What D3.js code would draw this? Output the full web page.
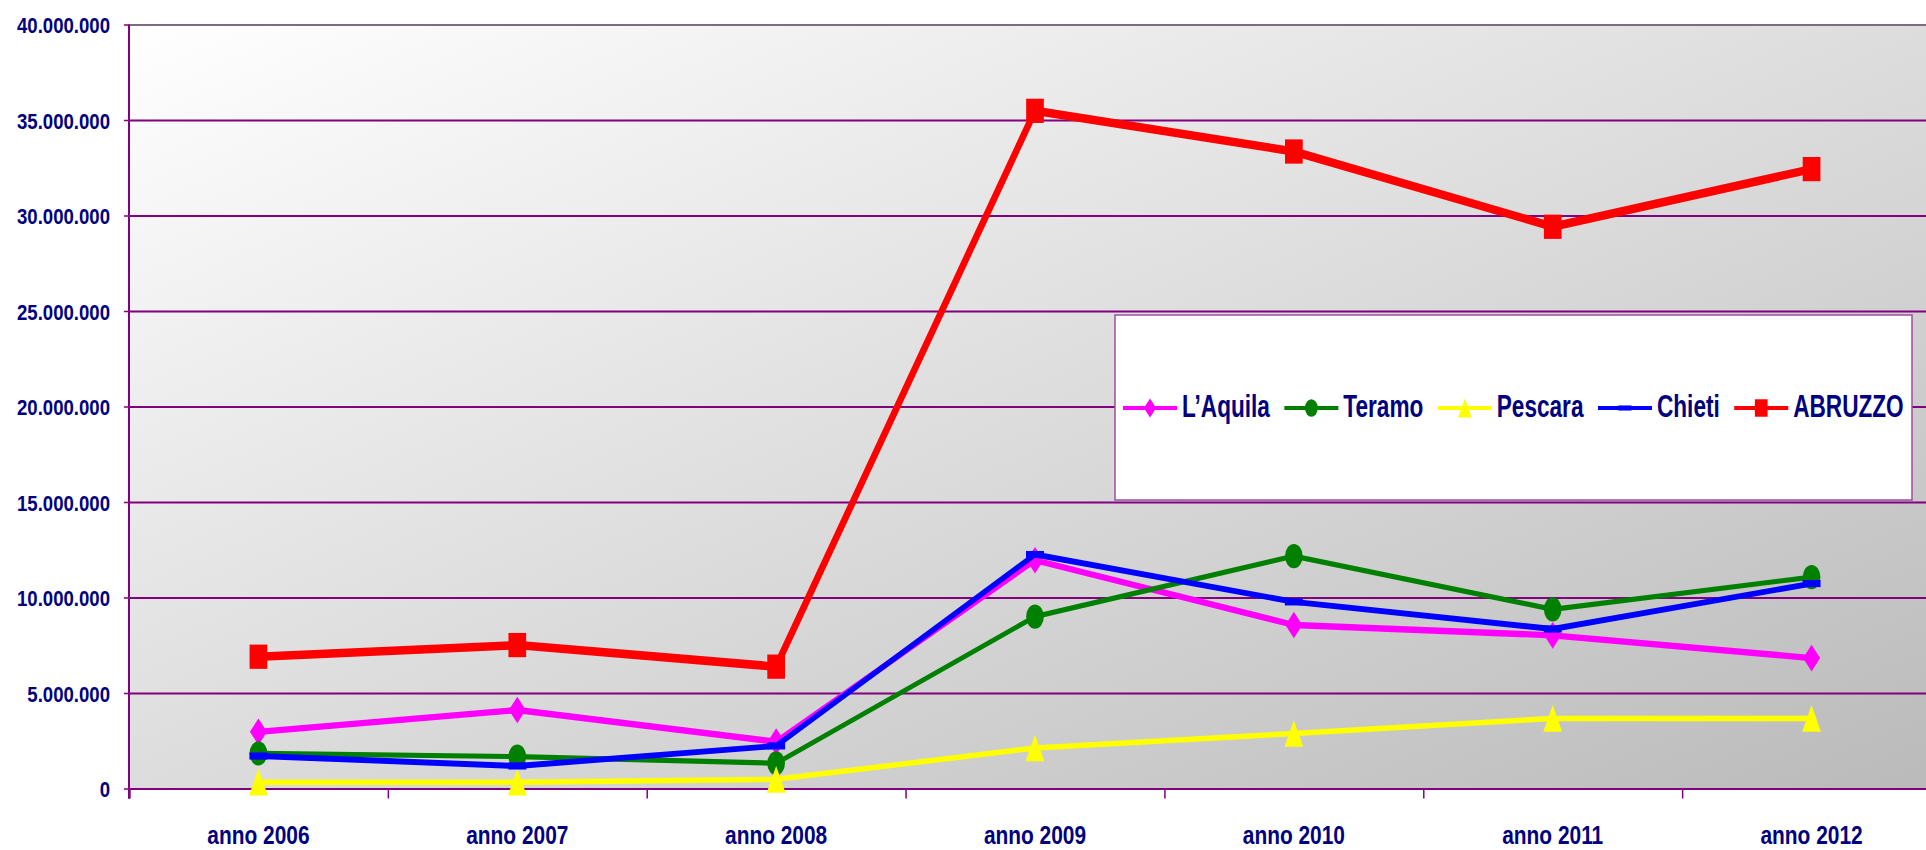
<!DOCTYPE html>
<html>
<head>
<meta charset="utf-8">
<script src="https://cdn.jsdelivr.net/npm/d3@7"></script>
<style>
  html, body { margin: 0; padding: 0; background: #ffffff; }
  svg { display: block; }
  text { font-family: "Liberation Sans", Arial, sans-serif; font-weight: bold; fill: #000080; }
</style>
</head>
<body>
<svg id="chart" width="1926" height="850"></svg>
<script>
// Categories (years) and values per province
const categories = ["anno 2006", "anno 2007", "anno 2008", "anno 2009", "anno 2010", "anno 2011", "anno 2012"];
const laquila = [2970000, 4110000, 2450000, 11950000, 8560000, 8020000, 6830000];
const teramo  = [1840000, 1670000, 1320000, 9000000, 12170000, 9380000, 11070000];
const pescara = [330000, 330000, 480000, 2120000, 2880000, 3670000, 3670000];
const chieti  = [1700000, 1180000, 2230000, 12250000, 9770000, 8350000, 10730000];
const abruzzo = [6900000, 7510000, 6380000, 35480000, 33350000, 29410000, 32430000];
const seriesNames = ["L\u2019Aquila", "Teramo", "Pescara", "Chieti", "ABRUZZO"];
const yTicks = [0, 5000000, 10000000, 15000000, 20000000, 25000000, 30000000, 35000000, 40000000];

const series = [
  { name: seriesNames[0], values: laquila, color: "#ff00ff", marker: "diamond", width: 4.6 },
  { name: seriesNames[1], values: teramo,  color: "#008000", marker: "circle",  width: 3.8 },
  { name: seriesNames[2], values: pescara, color: "#ffff00", marker: "triangle", width: 4.0 },
  { name: seriesNames[3], values: chieti,  color: "#0000ff", marker: "dash",    width: 4.3 },
  { name: seriesNames[4], values: abruzzo, color: "#ff0000", marker: "square",  width: 6.2 }
];

// Layout (final pixel coordinates)
const plot = { left: 129, right: 1941, top: 24.5, bottom: 788.5 };
const K = 1.37;                 // vertical stretch of the drawing
const purple = "#800080";

const svg = d3.select("#chart");
const defs = svg.append("defs");
const grad = defs.append("linearGradient").attr("id", "bg")
  .attr("x1", 0).attr("y1", 0).attr("x2", 1).attr("y2", 1);
grad.append("stop").attr("offset", 0).attr("stop-color", "#ffffff");
grad.append("stop").attr("offset", 1).attr("stop-color", "#bababa");

const y = d3.scaleLinear().domain([0, 40000000]).range([plot.bottom, plot.top]);
const xBand = d3.scaleBand().domain(categories).range([plot.left, plot.right]);
const xEdge = d3.scaleLinear().domain([0, categories.length]).range([plot.left, plot.right]);
const xc = c => xBand(c) + xBand.bandwidth() / 2;

const it = d3.formatLocale({ decimal: ",", thousands: ".", grouping: [3], currency: ["\u20ac", ""] });
const fmt = it.format(",d");

// Plot background
svg.append("rect")
  .attr("x", plot.left).attr("y", plot.top)
  .attr("width", plot.right - plot.left).attr("height", plot.bottom - plot.top)
  .attr("fill", "url(#bg)");

// Horizontal gridlines
const grid = svg.append("g").attr("transform", `translate(${plot.left},0)`)
  .call(d3.axisLeft(y).tickValues(yTicks).tickSize(-(plot.right - plot.left)).tickFormat(""));
grid.select(".domain").remove();
grid.selectAll("line").attr("stroke", purple).attr("stroke-width", 2.2);
grid.selectAll(".tick").filter(d => d === 40000000).select("line").attr("stroke", "#7d6a86");

// Y axis with labels
const yAxis = svg.append("g").attr("transform", `translate(${plot.left},0)`)
  .call(d3.axisLeft(y).tickValues(yTicks).tickSize(5).tickPadding(0).tickFormat(fmt));
yAxis.select(".domain").remove();
yAxis.selectAll("line").attr("stroke", purple).attr("stroke-width", 1.5);
yAxis.selectAll("text")
  .attr("x", null).attr("dy", null)
  .attr("text-anchor", "end")
  .attr("font-size", 18.6)
  .attr("transform", "translate(-19,8) scale(1,1.22)");
svg.append("line")
  .attr("x1", plot.left).attr("x2", plot.left)
  .attr("y1", plot.top).attr("y2", plot.bottom + 10)
  .attr("stroke", purple).attr("stroke-width", 2);

// X axis: boundary ticks and category labels
const xTicks = svg.append("g").attr("transform", `translate(0,${plot.bottom})`)
  .call(d3.axisBottom(xEdge).ticks(categories.length).tickSize(10).tickFormat(""));
xTicks.select(".domain").attr("stroke", purple).attr("stroke-width", 2.2);
xTicks.selectAll("line").attr("stroke", purple).attr("stroke-width", 1.5);

const xLabels = svg.append("g").attr("transform", `translate(0,${plot.bottom})`)
  .call(d3.axisBottom(xBand).tickSize(0).tickPadding(0));
xLabels.select(".domain").remove();
xLabels.selectAll("text")
  .attr("y", null).attr("dy", null)
  .attr("font-size", 20.9)
  .attr("transform", "translate(0,55) scale(1,1.27)");

// Series: drawn in a vertically stretched layer
const markerPath = {
  diamond:  "M0,-9.75L8.5,0L0,9.75L-8.5,0Z",
  triangle: "M0,-9.75L9.4,9.75L-9.4,9.75Z",
  square:   "M-8.85,-8.85H8.85V8.85H-8.85Z",
  dash:     "M-9,-2.6H9V2.6H-9Z",
  circle:   "M-8.85,0A8.85,8.85 0 1,0 8.85,0A8.85,8.85 0 1,0 -8.85,0Z"
};
const layer = svg.append("g").attr("transform", `scale(1,${K})`);
const line = d3.line().x((d, i) => xc(categories[i])).y(d => y(d) / K);

series.forEach(s => {
  const g = layer.append("g");
  g.append("path").datum(s.values)
    .attr("d", line)
    .attr("fill", "none")
    .attr("stroke", s.color)
    .attr("stroke-width", s.width)
    .attr("stroke-linejoin", "round");
  g.selectAll("path.m").data(s.values).join("path")
    .attr("class", "m")
    .attr("d", markerPath[s.marker])
    .attr("transform", (d, i) => `translate(${xc(categories[i])},${y(d) / K})`)
    .attr("fill", s.color);
});

// Legend
const lg = { x0: 1115, y0: 315, x1: 1912, y1: 500, cy: 408, base: 416.5 };
svg.append("rect")
  .attr("x", lg.x0).attr("y", lg.y0)
  .attr("width", lg.x1 - lg.x0).attr("height", lg.y1 - lg.y0)
  .attr("fill", "#ffffff").attr("stroke", "#9a4f9e").attr("stroke-width", 1.5);

const legendScale = 0.72;
let cursor = 1123;
series.forEach(s => {
  const item = svg.append("g");
  const sym = item.append("g").attr("transform", `translate(${cursor},${lg.cy}) scale(1,${K})`);
  sym.append("line").attr("x1", 0).attr("x2", 54).attr("y1", 0).attr("y2", 0)
    .attr("stroke", s.color).attr("stroke-width", 3);
  sym.append("path").attr("d", markerPath[s.marker])
    .attr("transform", `translate(27,0) scale(${legendScale})`)
    .attr("fill", s.color);
  const t = item.append("text")
    .attr("transform", `translate(${cursor + 59},${lg.base}) scale(1,1.37)`)
    .attr("font-size", 22.6)
    .text(s.name);
  cursor += 59 + t.node().getComputedTextLength() + 14.5;
});
</script>
</body>
</html>
